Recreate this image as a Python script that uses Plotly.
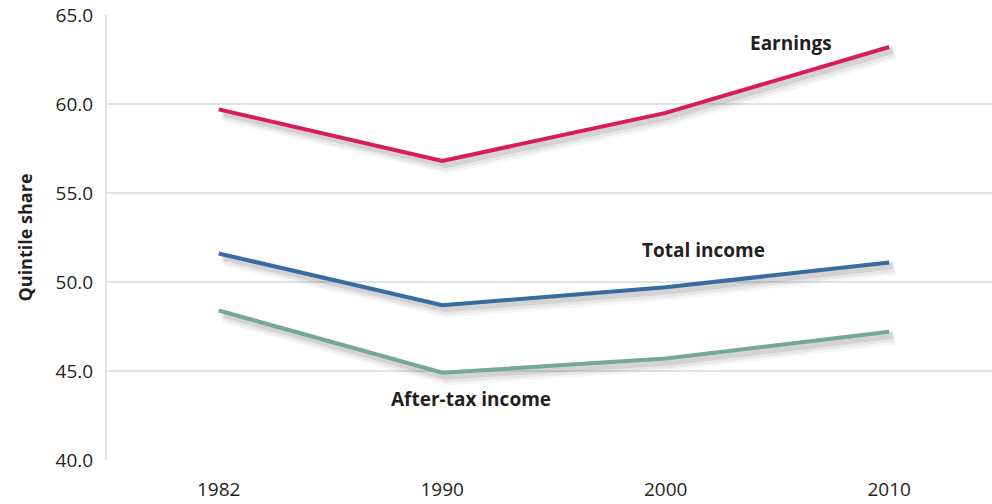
import plotly.graph_objects as go

years = ["1982", "1990", "2000", "2010"]
earnings = [59.7, 56.8, 59.5, 63.2]
total_income = [51.6, 48.7, 49.7, 51.1]
after_tax = [48.4, 44.9, 45.7, 47.2]
y_ticks = [40, 45, 50, 55, 60, 65]

series = [
    ("Earnings", earnings, "#d81b5c"),
    ("Total income", total_income, "#386ca0"),
    ("After-tax income", after_tax, "#76a898"),
]

xi = list(range(len(years)))
fig = go.Figure()

# soft drop shadows
for name, vals, col in series:
    for w, op, dx, dy in [(14, 0.05, 0.025, -0.3), (10, 0.07, 0.02, -0.27), (6, 0.11, 0.015, -0.22)]:
        fig.add_trace(go.Scatter(
            x=[v + dx for v in xi], y=[v + dy for v in vals], mode="lines",
            line=dict(color=f"rgba(60,50,55,{op})", width=w),
            hoverinfo="skip", showlegend=False))

for name, vals, col in series:
    fig.add_trace(go.Scatter(x=xi, y=vals, mode="lines", name=name,
                             line=dict(color=col, width=4), showlegend=False))

label_font = dict(family="Open Sans, Noto Sans, sans-serif", size=19, color="#231f20")
fig.add_annotation(x=2.56, y=63.45, text="<b>Earnings</b>", showarrow=False, font=label_font)
fig.add_annotation(x=2.17, y=51.8, text="<b>Total income</b>", showarrow=False, font=label_font)
fig.add_annotation(x=1.13, y=43.4, text="<b>After-tax income</b>", showarrow=False, font=label_font)

fig.update_layout(
    width=992, height=504,
    margin=dict(l=107, r=0, t=15, b=44),
    paper_bgcolor="white", plot_bgcolor="white",
    font=dict(family="Open Sans, Noto Sans, sans-serif", size=18, color="#231f20"),
    xaxis=dict(
        tickmode="array", tickvals=xi, ticktext=years,
        range=[-0.5, 3.46], showgrid=False, zeroline=False,
        showline=False, ticks="", ticklabelstandoff=16,
        tickfont=dict(size=19),
    ),
    yaxis=dict(
        range=[40, 65], tickvals=y_ticks,
        ticktext=[f"{v:.1f}" for v in y_ticks],
        showgrid=True, gridcolor="#dde6e3", gridwidth=2,
        showline=True, linecolor="#dde6e3", linewidth=2,
        zeroline=False, ticks="", ticklabelstandoff=8,
        tickfont=dict(size=19),
        title=dict(text="<b>Quintile share</b>", font=dict(size=18), standoff=18),
    ),
)

fig.write_html("out.html")
